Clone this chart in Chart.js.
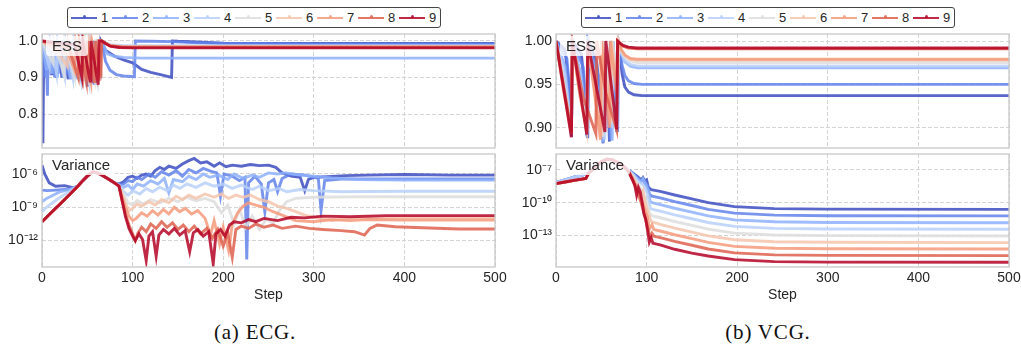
<!DOCTYPE html>
<html>
<head>
<meta charset="UTF-8">
<title>ESS and variance over steps, ECG and VCG</title>
<script src="https://cdn.jsdelivr.net/npm/chart.js@4.4.0/dist/chart.umd.min.js"></script>
<style>
body {
  margin: 0;
  width: 1021px;
  height: 348px;
  position: relative;
  overflow: hidden;
  background: #fff;
  font-family: "Liberation Sans", Arial, sans-serif;
  color: #262626;
}
.box { position: absolute; }
.legend {
  position: absolute;
  top: 7px;
  width: 374px;
  height: 21px;
  box-sizing: border-box;
  border: 1px solid #444;
  border-radius: 3px;
  padding-left: 3px;
  display: flex;
  align-items: center;
  background: #fff;
  font-size: 13px;
}
.item { width: 41px; display: flex; align-items: center; }
.sample { position: relative; width: 26px; height: 0; border-top: 2.5px solid; margin-right: 4px; }
.sample i { position: absolute; left: 11.5px; top: -3.2px; width: 3px; height: 3px; border-radius: 50%; }
.tag {
  position: absolute;
  height: 20px;
  line-height: 20px;
  padding: 0 6px;
  font-size: 15px;
  background: rgba(255,255,255,0.8);
  border-radius: 3px;
  z-index: 2;
}
.caption {
  position: absolute;
  top: 322px;
  width: 200px;
  text-align: center;
  font-family: "Liberation Serif", "Times New Roman", serif;
  font-size: 21px;
  line-height: 21px;
  letter-spacing: 0.8px;
  color: #111;
}
</style>
</head>
<body>
<div class="box" style="left:0;top:30px"><canvas id="ecgEssChart" width="510" height="122"></canvas></div>
<div class="box" style="left:0;top:150px"><canvas id="ecgVarChart" width="510" height="160"></canvas></div>
<div class="box" style="left:510px;top:30px"><canvas id="vcgEssChart" width="511" height="122"></canvas></div>
<div class="box" style="left:510px;top:150px"><canvas id="vcgVarChart" width="511" height="160"></canvas></div>

<div class="legend" id="legendA" style="left:67px"></div>
<div class="legend" id="legendB" style="left:581px"></div>

<div class="tag" style="left:46px;top:36px">ESS</div>
<div class="tag" style="left:46px;top:155px">Variance</div>
<div class="tag" style="left:560px;top:36px">ESS</div>
<div class="tag" style="left:560px;top:155px">Variance</div>

<div class="caption" style="left:155px">(a) ECG.</div>
<div class="caption" style="left:668px">(b) VCG.</div>

<script>
// series names and colours (coolwarm, 9 steps)
var seriesLabels = ["1","2","3","4","5","6","7","8","9"];
var seriesColors = [
"rgba(59,76,192,0.85)","rgba(98,130,234,0.85)","rgba(141,176,254,0.85)",
"rgba(184,208,249,0.85)","rgba(221,221,221,0.85)","rgba(245,196,172,0.85)",
"rgba(244,154,123,0.85)","rgba(222,96,77,0.85)","rgba(180,4,38,0.85)"];

// x axis
var stepTicks = [0,100,200,300,400,500];

// ---- (a) ECG, ESS: [step, ESS]
var ecgEss1 = [[0,1],[1,0.72],[2,1],[5,0.93],[6,1],[10,0.91],[11,1],[16,0.9],[17,1],[22,0.9],[23,1],[29,0.895],[30,1],[36,0.9],[37,1],[43,0.89],[44,1],[50,0.875],[51,1],[57,0.885],[58,1],[64,0.895],[65,1],[70,0.975],[80,0.958],[90,0.948],[100,0.94],[110,0.922],[120,0.914],[132,0.907],[143,0.9],[144,1],[150,0.999],[170,0.997],[200,0.994],[300,0.993],[500,0.993]];
var ecgEss2 = [[0,1],[3,0.9],[4,1],[6,0.85],[7,1],[10,0.93],[11,1],[14,0.9],[15,1],[18,0.91],[19,1],[23,0.9],[24,1],[27,0.91],[28,1],[32,0.895],[33,1],[37,0.9],[38,1],[42,0.9],[43,1],[47,0.89],[48,1],[53,0.885],[54,1],[58,0.88],[59,1],[63,0.9],[64,1],[66,1],[70,0.945],[75,0.92],[82,0.908],[90,0.904],[102,0.902],[103,1],[120,0.999],[143,0.998],[160,0.996],[200,0.993],[300,0.991],[500,0.991]];
var ecgEss3 = [[0,1],[5,0.92],[6,1],[11,0.91],[12,1],[17,0.9],[18,1],[24,0.9],[25,1],[31,0.9],[32,1],[38,0.895],[39,1],[45,0.9],[46,1],[52,0.89],[53,1],[60,0.885],[61,1],[66,1],[72,0.965],[80,0.958],[90,0.955],[110,0.953],[500,0.953]];
var ecgEss4 = [[0,1],[8,0.93],[9,1],[16,0.91],[17,1],[25,0.905],[26,1],[34,0.9],[35,1],[43,0.895],[44,1],[52,0.89],[53,1],[61,0.895],[62,1],[66,1],[75,0.99],[90,0.987],[500,0.987]];
var ecgEss5 = [[0,1],[12,0.94],[13,1],[24,0.91],[25,1],[36,0.9],[37,1],[47,0.9],[48,1],[58,0.895],[59,1],[66,1],[75,0.988],[90,0.985],[500,0.985]];
var ecgEss6 = [[0,1],[20,0.96],[28,0.93],[29,1],[40,0.91],[41,1],[51,0.9],[52,1],[61,0.9],[62,1],[66,1],[75,0.987],[90,0.984],[500,0.984]];
var ecgEss7 = [[0,1],[30,0.96],[36,0.92],[37,1],[45,0.9],[46,1],[54,0.89],[55,1],[63,0.895],[64,1],[66,1],[75,0.986],[90,0.983],[500,0.983]];
var ecgEss8 = [[0,1],[30,0.98],[40,0.9],[41,1],[49,0.89],[50,1],[58,0.885],[59,1],[65,0.9],[66,1],[75,0.987],[90,0.983],[500,0.983]];
var ecgEss9 = [[0,1],[36,0.99],[44,0.9],[45,1],[53,0.89],[54,1],[62,0.88],[63,1],[66,1],[70,0.993],[76,0.985],[85,0.982],[100,0.981],[500,0.981]];

// ---- (a) ECG, variance: [step, power of ten]
var ecgVar1 = [[0,-5.2],[3,-6.0],[8,-6.8],[15,-7.1],[25,-7.05],[35,-7.25],[40,-7.06],[45,-6.6],[50,-6.2],[56,-5.8],[60,-5.88],[65,-6.05],[70,-6.3],[75,-6.55],[80,-6.8],[85,-6.9],[90,-6.7],[95,-6.3],[100,-6.2],[105,-6.4],[110,-6.1],[115,-6.0],[120,-6.2],[125,-5.7],[130,-5.4],[135,-5.6],[140,-5.3],[148,-5.5],[155,-5.1],[162,-4.8],[168,-4.6],[175,-5.0],[182,-4.9],[190,-5.3],[196,-5.0],[203,-5.35],[210,-5.2],[220,-5.3],[230,-5.15],[240,-5.25],[250,-5.2],[258,-5.4],[265,-5.9],[275,-6.2],[285,-6.3],[290,-7.5],[294,-6.5],[300,-6.3],[315,-6.25],[335,-6.15],[360,-6.1],[400,-6.05],[450,-6.1],[500,-6.1]];
var ecgVar2 = [[0,-7.45],[6,-7.5],[15,-7.45],[25,-7.4],[35,-7.35],[40,-7.06],[45,-6.6],[50,-6.2],[56,-5.8],[60,-5.88],[65,-6.05],[70,-6.3],[75,-6.55],[80,-6.8],[85,-7.0],[90,-6.9],[95,-6.6],[100,-6.7],[105,-6.3],[110,-6.5],[118,-6.0],[125,-6.3],[132,-5.8],[140,-6.1],[148,-5.7],[155,-6.2],[162,-5.6],[170,-5.9],[178,-5.5],[186,-5.75],[193,-5.9],[197,-8.0],[201,-6.0],[210,-6.2],[218,-6.6],[224,-6.3],[226,-13.7],[228,-6.8],[235,-6.2],[242,-6.9],[246,-9.4],[250,-6.8],[256,-6.5],[260,-7.6],[265,-6.4],[275,-6.0],[290,-6.1],[305,-6.4],[308,-9.3],[312,-6.6],[330,-6.45],[400,-6.45],[500,-6.45]];
var ecgVar3 = [[0,-8.5],[5,-8.2],[10,-8.0],[20,-7.6],[30,-7.4],[40,-7.06],[45,-6.6],[50,-6.2],[56,-5.8],[60,-5.88],[65,-6.05],[70,-6.3],[75,-6.55],[80,-6.8],[85,-7.0],[90,-7.2],[95,-7.0],[100,-7.4],[105,-6.9],[112,-7.1],[120,-6.6],[128,-6.9],[135,-6.4],[140,-7.7],[145,-6.5],[155,-6.7],[162,-6.2],[170,-6.5],[178,-6.0],[185,-6.3],[195,-6.1],[205,-6.5],[212,-6.0],[222,-6.4],[232,-6.1],[240,-6.3],[250,-5.9],[260,-6.0],[270,-5.9],[280,-6.05],[300,-6.2],[320,-6.35],[350,-6.5],[400,-6.55],[500,-6.55]];
var ecgVar4 = [[0,-9.4],[5,-9.0],[10,-8.7],[20,-8.1],[30,-7.6],[40,-7.06],[45,-6.6],[50,-6.2],[56,-5.8],[60,-5.88],[65,-6.05],[70,-6.3],[75,-6.55],[80,-6.8],[85,-7.0],[90,-7.6],[95,-7.9],[100,-7.5],[108,-7.8],[115,-7.3],[122,-7.6],[130,-7.2],[138,-7.5],[145,-7.0],[152,-7.3],[160,-6.9],[170,-7.2],[180,-6.8],[190,-7.1],[200,-6.9],[210,-7.3],[220,-7.0],[232,-7.4],[240,-7.1],[250,-7.5],[262,-7.3],[270,-7.6],[285,-7.4],[300,-7.5],[330,-7.6],[400,-7.55],[500,-7.55]];
var ecgVar5 = [[0,-10.3],[10,-9.5],[20,-8.7],[30,-7.9],[40,-7.06],[45,-6.6],[50,-6.2],[56,-5.8],[60,-5.88],[65,-6.05],[70,-6.3],[75,-6.55],[80,-6.8],[85,-7.1],[90,-7.8],[95,-8.6],[100,-8.8],[105,-8.4],[112,-8.7],[120,-8.3],[130,-8.6],[140,-8.2],[150,-8.5],[160,-8.1],[170,-8.4],[180,-8.2],[190,-8.5],[198,-9.5],[205,-8.8],[212,-10.5],[218,-9.2],[225,-10.8],[232,-9.8],[240,-11.0],[248,-10.0],[255,-10.5],[262,-9.3],[270,-8.5],[280,-8.2],[300,-8.1],[350,-8.05],[500,-8.05]];
var ecgVar6 = [[0,-10.3],[10,-9.5],[20,-8.7],[30,-7.9],[40,-7.06],[45,-6.6],[50,-6.2],[56,-5.8],[60,-5.88],[65,-6.05],[70,-6.3],[75,-6.55],[80,-6.8],[85,-7.1],[88,-7.8],[92,-8.6],[96,-9.3],[100,-9.1],[105,-8.7],[110,-8.9],[118,-8.5],[125,-8.8],[132,-8.3],[140,-8.6],[148,-8.0],[155,-8.3],[162,-7.9],[170,-8.2],[180,-7.8],[190,-8.1],[198,-7.8],[206,-8.2],[214,-7.9],[222,-8.1],[230,-7.9],[240,-8.3],[250,-8.5],[260,-8.9],[270,-9.1],[280,-9.4],[290,-9.7],[300,-9.9],[320,-10.2],[340,-10.0],[360,-10.0],[400,-9.95],[500,-9.95]];
var ecgVar7 = [[0,-10.3],[10,-9.5],[20,-8.7],[30,-7.9],[40,-7.06],[45,-6.6],[50,-6.2],[56,-5.8],[60,-5.88],[65,-6.05],[70,-6.3],[75,-6.55],[80,-6.8],[85,-7.1],[88,-8.0],[92,-9.0],[96,-9.8],[100,-10.2],[104,-10.0],[110,-9.5],[116,-9.8],[122,-9.3],[128,-9.7],[134,-9.2],[140,-9.6],[146,-9.0],[152,-9.4],[158,-9.1],[165,-9.6],[172,-9.3],[180,-10.0],[186,-11.5],[190,-10.2],[196,-12.3],[200,-10.8],[206,-12.9],[210,-10.5],[216,-9.5],[222,-8.9],[228,-8.6],[236,-8.8],[245,-9.0],[255,-9.4],[265,-9.7],[280,-10.2],[300,-10.3],[320,-10.1],[340,-10.2],[360,-10.1],[400,-10.15],[500,-10.15]];
var ecgVar8 = [[0,-10.3],[10,-9.5],[20,-8.7],[30,-7.9],[40,-7.06],[45,-6.6],[50,-6.2],[56,-5.8],[60,-5.88],[65,-6.05],[70,-6.3],[75,-6.55],[80,-6.8],[85,-7.1],[88,-8.3],[92,-9.6],[96,-10.6],[100,-11.4],[103,-12.0],[106,-11.3],[110,-10.8],[115,-11.2],[120,-10.5],[126,-10.9],[132,-10.3],[138,-10.8],[144,-10.4],[150,-11.0],[156,-10.6],[162,-11.2],[168,-10.7],[175,-11.4],[182,-10.9],[188,-11.8],[194,-11.0],[200,-12.5],[205,-11.3],[210,-13.5],[214,-11.0],[220,-10.7],[228,-10.9],[236,-10.5],[245,-10.8],[255,-10.6],[265,-10.9],[280,-10.7],[295,-10.9],[310,-11.0],[330,-11.1],[345,-11.2],[356,-11.5],[362,-10.9],[370,-10.6],[390,-10.75],[420,-10.85],[460,-10.95],[500,-10.95]];
var ecgVar9 = [[0,-10.3],[10,-9.5],[20,-8.7],[30,-7.9],[40,-7.06],[45,-6.6],[50,-6.2],[56,-5.8],[60,-5.88],[65,-6.05],[70,-6.3],[75,-6.55],[80,-6.8],[85,-7.1],[88,-8.2],[92,-9.8],[96,-10.9],[100,-11.6],[103,-12.0],[107,-11.4],[111,-11.9],[115,-13.8],[118,-11.6],[122,-11.2],[126,-13.4],[129,-11.5],[134,-11.0],[140,-11.4],[146,-10.9],[152,-11.5],[158,-11.1],[163,-13.0],[167,-11.3],[172,-11.0],[178,-11.6],[184,-11.2],[189,-14.1],[192,-11.4],[197,-11.0],[202,-11.6],[207,-10.6],[212,-10.3],[220,-10.4],[228,-10.1],[236,-10.3],[245,-10.0],[260,-10.2],[275,-9.9],[290,-9.95],[310,-9.8],[340,-9.85],[380,-9.75],[440,-9.75],[500,-9.75]];

// ---- (b) VCG, ESS: [step, ESS]
var vcgEss1 = [[0,1],[10,0.99],[15,0.94],[17,0.89],[18,1],[28,0.985],[33,0.93],[35,0.888],[36,1],[45,0.975],[50,0.92],[52,0.882],[53,1],[57,0.95],[59,0.884],[60,1],[65,0.95],[67,0.895],[68,1],[69,1],[71,0.98],[73,0.962],[76,0.947],[80,0.941],[86,0.938],[95,0.937],[500,0.937]];
var vcgEss2 = [[0,1],[12,0.98],[16,0.93],[17,0.89],[18,1],[30,0.97],[34,0.89],[35,1],[47,0.96],[52,0.885],[53,1],[58,0.93],[60,0.886],[61,1],[66,0.93],[68,0.895],[69,1],[71,0.985],[73,0.972],[76,0.96],[80,0.954],[86,0.951],[95,0.95],[500,0.95]];
var vcgEss3 = [[0,1],[10,0.97],[17,0.892],[18,1],[28,0.96],[34,0.892],[35,1],[45,0.95],[52,0.883],[53,1],[60,0.92],[62,0.885],[63,1],[68,0.9],[69,1],[72,0.985],[76,0.976],[82,0.971],[90,0.969],[500,0.969]];
var vcgEss4 = [[0,1],[10,0.96],[17,0.895],[18,1],[28,0.95],[34,0.893],[35,1],[45,0.94],[53,0.888],[54,1],[62,0.9],[63,1],[68,0.93],[69,1],[72,0.987],[76,0.978],[82,0.973],[90,0.971],[500,0.971]];
var vcgEss5 = [[0,1],[9,0.95],[17,0.897],[18,1],[27,0.945],[34,0.895],[35,1],[44,0.94],[52,0.89],[53,1],[61,0.905],[62,1],[68,0.95],[69,1],[72,0.988],[76,0.981],[82,0.977],[90,0.975],[500,0.975]];
var vcgEss6 = [[0,1],[8,0.95],[17,0.895],[18,1],[26,0.94],[34,0.897],[35,1],[43,0.935],[50,0.89],[51,1],[60,0.905],[61,1],[68,0.95],[69,1],[72,0.99],[76,0.983],[82,0.979],[90,0.978],[500,0.978]];
var vcgEss7 = [[0,1],[8,0.945],[17,0.893],[18,1],[26,0.94],[34,0.895],[35,1],[44,0.93],[49,0.886],[50,1],[59,0.9],[60,1],[67,0.94],[68,1],[69,1],[72,0.99],[76,0.984],[82,0.98],[90,0.979],[500,0.979]];
var vcgEss8 = [[0,1],[17,0.895],[18,1],[30,0.935],[44,0.893],[45,1],[55,0.94],[67,0.897],[68,1],[70,0.998],[74,0.994],[80,0.992],[90,0.991],[500,0.991]];
var vcgEss9 = [[0,1],[17,0.889],[18,1],[34,0.892],[35,1],[44,0.95],[54,0.895],[55,1],[67,0.898],[68,1],[70,0.998],[74,0.995],[80,0.993],[90,0.992],[500,0.992]];

// ---- (b) VCG, variance: [step, power of ten]
var vcgVar1 = [[0,-8.15],[10,-7.9],[20,-7.65],[30,-7.45],[36,-7.25],[40,-7.0],[45,-6.6],[50,-6.25],[56,-6.02],[62,-6.05],[70,-6.4],[75,-6.7],[80,-7.0],[85,-7.3],[90,-7.6],[94,-7.9],[96,-7.7],[98,-8.0],[100,-7.9],[102,-8.6],[105,-8.8],[115,-8.95],[131,-9.29],[150,-9.65],[168,-9.99],[197,-10.35],[241,-10.53],[300,-10.58],[500,-10.6]];
var vcgVar2 = [[0,-8.15],[10,-7.9],[20,-7.65],[30,-7.45],[36,-7.25],[40,-7.0],[45,-6.6],[50,-6.25],[56,-6.02],[62,-6.05],[70,-6.4],[75,-6.7],[80,-7.0],[85,-7.35],[90,-7.7],[94,-8.0],[96,-7.8],[98,-8.2],[101,-8.4],[103,-9.2],[106,-9.4],[115,-9.55],[131,-9.9],[150,-10.25],[168,-10.6],[197,-10.95],[241,-11.13],[300,-11.18],[500,-11.2]];
var vcgVar3 = [[0,-8.15],[10,-7.9],[20,-7.65],[30,-7.45],[36,-7.25],[40,-7.0],[45,-6.6],[50,-6.25],[56,-6.02],[62,-6.05],[70,-6.4],[75,-6.7],[80,-7.0],[85,-7.4],[90,-7.8],[94,-8.1],[96,-7.8],[99,-8.3],[102,-8.9],[104,-9.9],[107,-10.0],[115,-10.16],[131,-10.5],[150,-10.86],[168,-11.2],[197,-11.56],[241,-11.74],[300,-11.8],[500,-11.82]];
var vcgVar4 = [[0,-8.15],[10,-7.9],[20,-7.65],[30,-7.45],[36,-7.25],[40,-7.0],[45,-6.6],[50,-6.25],[56,-6.02],[62,-6.05],[70,-6.4],[75,-6.7],[80,-7.0],[86,-7.5],[90,-8.0],[95,-8.3],[98,-8.6],[101,-9.2],[104,-10.5],[107,-10.6],[115,-10.76],[131,-11.1],[150,-11.46],[168,-11.8],[197,-12.16],[241,-12.34],[300,-12.4],[500,-12.42]];
var vcgVar5 = [[0,-8.25],[10,-8.1],[20,-7.95],[33,-7.78],[36,-7.3],[40,-7.0],[45,-6.6],[50,-6.25],[56,-6.02],[62,-6.05],[70,-6.4],[75,-6.7],[80,-7.05],[86,-7.7],[90,-8.3],[95,-8.9],[98,-9.5],[101,-10.2],[104,-11.1],[107,-11.2],[115,-11.37],[131,-11.71],[150,-12.07],[168,-12.41],[197,-12.77],[241,-12.95],[300,-13.0],[500,-13.03]];
var vcgVar6 = [[0,-8.25],[10,-8.1],[20,-7.95],[33,-7.78],[36,-7.3],[40,-7.0],[45,-6.6],[50,-6.25],[56,-6.02],[62,-6.05],[70,-6.4],[75,-6.7],[80,-7.1],[86,-7.9],[90,-8.6],[93,-9.4],[96,-8.9],[99,-10.2],[102,-11.0],[105,-11.7],[108,-11.8],[115,-11.98],[131,-12.32],[150,-12.68],[168,-13.02],[197,-13.38],[241,-13.56],[300,-13.61],[500,-13.64]];
var vcgVar7 = [[0,-8.25],[10,-8.1],[20,-7.95],[33,-7.78],[36,-7.3],[40,-7.0],[45,-6.6],[50,-6.25],[56,-6.02],[62,-6.05],[70,-6.4],[75,-6.7],[80,-7.1],[86,-8.0],[90,-8.8],[94,-9.6],[98,-10.6],[101,-11.3],[103,-12.4],[106,-12.0],[108,-12.45],[115,-12.58],[131,-12.92],[150,-13.28],[168,-13.62],[197,-13.98],[241,-14.16],[300,-14.2],[500,-14.22]];
var vcgVar8 = [[0,-8.25],[10,-8.1],[20,-7.95],[33,-7.78],[36,-7.3],[40,-7.0],[45,-6.6],[50,-6.25],[56,-6.02],[62,-6.05],[70,-6.4],[75,-6.7],[80,-7.1],[86,-8.2],[90,-9.0],[94,-10.0],[98,-11.2],[101,-12.2],[104,-13.2],[106,-12.8],[108,-13.05],[115,-13.18],[131,-13.52],[150,-13.88],[168,-14.22],[197,-14.58],[241,-14.76],[300,-14.81],[500,-14.83]];
var vcgVar9 = [[0,-8.25],[10,-8.1],[20,-7.95],[33,-7.78],[36,-7.3],[40,-7.0],[45,-6.6],[50,-6.25],[56,-6.02],[62,-6.05],[70,-6.4],[75,-6.7],[80,-7.15],[84,-7.8],[87,-8.4],[89,-9.3],[91,-8.6],[93,-9.0],[95,-9.9],[97,-11.0],[99,-11.5],[101,-12.5],[103,-13.6],[105,-13.2],[107,-13.7],[110,-13.75],[115,-13.85],[131,-14.25],[150,-14.6],[168,-14.86],[197,-15.2],[241,-15.38],[300,-15.42],[500,-15.44]];

var ecgEss = [ecgEss1,ecgEss2,ecgEss3,ecgEss4,ecgEss5,ecgEss6,ecgEss7,ecgEss8,ecgEss9];
var ecgVar = [ecgVar1,ecgVar2,ecgVar3,ecgVar4,ecgVar5,ecgVar6,ecgVar7,ecgVar8,ecgVar9];
var vcgEss = [vcgEss1,vcgEss2,vcgEss3,vcgEss4,vcgEss5,vcgEss6,vcgEss7,vcgEss8,vcgEss9];
var vcgVar = [vcgVar1,vcgVar2,vcgVar3,vcgVar4,vcgVar5,vcgVar6,vcgVar7,vcgVar8,vcgVar9];

var fontFamily = '"Liberation Sans", Arial, sans-serif';
var textColor = "#262626";
var gridColor = "#d4d4d4";

// light grey box round the plot area
var framePlugin = {
    id: "frame",
    afterDatasetsDraw: function(chart) {
        var a = chart.chartArea, ctx = chart.ctx;
        ctx.save();
        ctx.strokeStyle = "#c8c8c8";
        ctx.lineWidth = 1.3;
        ctx.strokeRect(a.left, a.top, a.right - a.left, a.bottom - a.top);
        ctx.restore();
    }
};

function sup(n)
{
    var map = {"-":"\u207B","0":"\u2070","1":"\u00B9","2":"\u00B2","3":"\u00B3","4":"\u2074",
               "5":"\u2075","6":"\u2076","7":"\u2077","8":"\u2078","9":"\u2079"};
    return String(n).split("").map(function(c) { return map[c]; }).join("");
}

function drawPanel(id, series, cfg)
{
    var datasets = series.map(function(pts, i) {
        return {
            label: seriesLabels[i],
            data: pts.map(function(p) { return {x: p[0], y: cfg.log ? Math.pow(10, p[1]) : p[1]}; }),
            borderColor: seriesColors[i],
            borderWidth: 2.9,
            pointRadius: 0,
            tension: 0,
            fill: false,
            order: series.length - i
        };
    });
    new Chart(document.getElementById(id), {
        type: "line",
        data: {datasets: datasets},
        options: {
            responsive: false,
            animation: false,
            layout: {padding: {top: 4, bottom: cfg.bottom ? 0 : 4, left: 0, right: cfg.padRight}},
            plugins: {legend: {display: false}, tooltip: {enabled: false}},
            scales: {
                x: {
                    type: "linear", min: 0, max: 500, bounds: "data",
                    afterBuildTicks: function(s) { s.ticks = stepTicks.map(function(v) { return {value: v}; }); },
                    ticks: {display: cfg.bottom, font: {size: 14, family: fontFamily}, color: textColor, padding: 3, maxRotation: 0},
                    grid: {color: gridColor, lineWidth: 1, drawTicks: false},
                    border: {display: false, dash: [4, 2]},
                    title: {display: cfg.bottom, text: "Step", color: textColor,
                            font: {size: 14, family: fontFamily}, padding: {top: 0, bottom: 6}},
                    afterFit: function(s) { s.height = cfg.bottom ? 43 : 0; s.paddingLeft = 0; s.paddingRight = 0; }
                },
                y: {
                    type: cfg.log ? "logarithmic" : "linear",
                    min: cfg.min, max: cfg.max, bounds: "data",
                    afterBuildTicks: function(s) { s.ticks = cfg.ticks.map(function(v) { return {value: v}; }); },
                    ticks: {font: {size: 14, family: fontFamily}, color: textColor, padding: 4,
                            callback: function(v) {
                                if (cfg.log) return "10" + sup(Math.round(Math.log10(v)));
                                return Number(v).toFixed(cfg.digits);
                            }},
                    grid: {color: gridColor, lineWidth: 1, drawTicks: false},
                    border: {display: false, dash: [4, 2]},
                    afterFit: function(s) { s.width = cfg.axisWidth; s.paddingTop = 0; s.paddingBottom = 0; }
                }
            }
        },
        plugins: [framePlugin]
    });
}

function buildLegend(id)
{
    var box = document.getElementById(id);
    seriesLabels.forEach(function(name, i) {
        var item = document.createElement("div");
        item.className = "item";
        item.innerHTML = '<span class="sample" style="border-color:' + seriesColors[i] +
            '"><i style="background:' + seriesColors[i] + '"></i></span><span>' + name + '</span>';
        box.appendChild(item);
    });
}

drawPanel("ecgEssChart", ecgEss, {min: 0.707, max: 1.019, ticks: [0.8, 0.9, 1.0], digits: 1, axisWidth: 42, padRight: 15, bottom: false});
drawPanel("ecgVarChart", ecgVar, {log: true, min: Math.pow(10, -14.38), max: Math.pow(10, -4.2), ticks: [1e-12, 1e-9, 1e-6], axisWidth: 42, padRight: 15, bottom: true});
drawPanel("vcgEssChart", vcgEss, {min: 0.8766, max: 1.0081, ticks: [0.90, 0.95, 1.00], digits: 2, axisWidth: 46, padRight: 12, bottom: false});
drawPanel("vcgVarChart", vcgVar, {log: true, min: Math.pow(10, -15.87), max: Math.pow(10, -5.54), ticks: [1e-13, 1e-10, 1e-7], axisWidth: 46, padRight: 12, bottom: true});
buildLegend("legendA");
buildLegend("legendB");
</script>
</body>
</html>
